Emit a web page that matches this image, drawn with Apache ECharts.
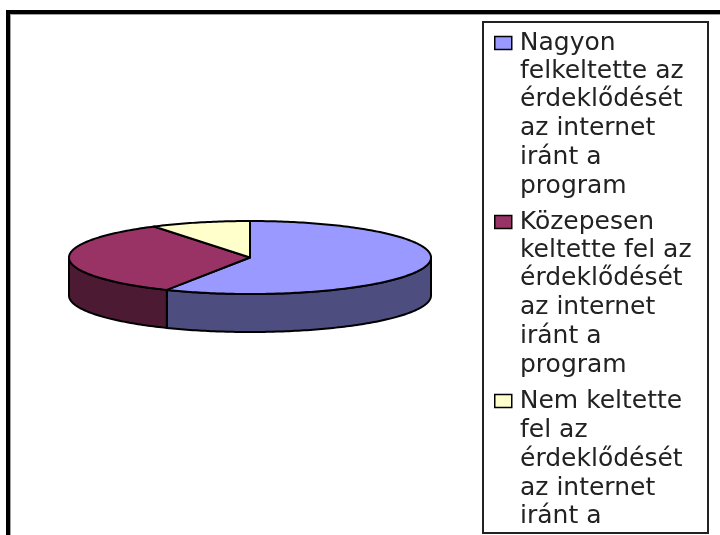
<!DOCTYPE html>
<html>
<head>
<meta charset="utf-8">
<style>html,body{margin:0;padding:0;background:#fff}#chart{width:720px;height:535px}</style>
<script src="https://cdn.jsdelivr.net/npm/echarts@6/dist/echarts.min.js"></script>
</head>
<body>
<div id="chart"></div>
<script>
// slice labels, line by line as they wrap in the legend box
var labelLines = [
    ['Nagyon', 'felkeltette az', 'érdeklődését', 'az internet', 'iránt a', 'program'],
    ['Közepesen', 'keltette fel az', 'érdeklődését', 'az internet', 'iránt a', 'program'],
    ['Nem keltette', 'fel az', 'érdeklődését', 'az internet', 'iránt a']
];
var sliceValues = [57.6, 33.5, 8.9];
var topColors = ['#9999ff', '#993366', '#ffffcc'];
var sideColors = ['#4d4d80', '#4d1a33', '#808066'];

var myChart = echarts.init(document.getElementById('chart'));

// flattened pie geometry
var CX = 250, CY = 257.5, RX = 181, RY = 36.5, DEPTH = 38;
var FONT_SIZE = 25;
var FONT_FAMILY = '"DejaVu Sans", sans-serif';
var LINE = 28.7;
var total = sliceValues.reduce(function (a, b) { return a + b; }, 0);

function pointAt(deg, drop) {
    // degrees clockwise from 12 o'clock
    var r = deg * Math.PI / 180;
    return [CX + RX * Math.sin(r), CY - RY * Math.cos(r) + (drop || 0)];
}

function arc(from, to, drop) {
    var pts = [];
    var n = Math.max(2, Math.ceil(to - from));
    for (var i = 0; i <= n; i++) {
        pts.push(pointAt(from + (to - from) * i / n, drop));
    }
    return pts;
}

function sliceItem(index) {
    return function (params, api) {
        var before = 0;
        for (var i = 0; i < index; i++) before += sliceValues[i];
        var start = before / total * 360;
        var end = start + api.value(0) / total * 360;
        var children = [];
        var lineStyle = { stroke: '#000', lineWidth: 2, lineJoin: 'round' };
        // only the front half of the rim can be seen
        var from = Math.max(start, 90), to = Math.min(end, 270);
        if (to > from) {
            var rim = arc(from, to, 0).concat(arc(from, to, DEPTH).reverse());
            children.push({
                type: 'polygon',
                shape: { points: rim },
                style: echarts.util.extend({ fill: sideColors[index] }, lineStyle)
            });
        }
        children.push({
            type: 'polygon',
            shape: { points: [[CX, CY]].concat(arc(start, end, 0)) },
            style: echarts.util.extend({ fill: topColors[index] }, lineStyle)
        });
        return { type: 'group', children: children };
    };
}

var seriesNames = labelLines.map(function (l) { return l.join(' '); });

var series = sliceValues.map(function (v, i) {
    return {
        name: seriesNames[i],
        type: 'custom',
        coordinateSystem: 'none',
        silent: true,
        animation: false,
        itemStyle: { color: topColors[i] },
        renderItem: sliceItem(i),
        data: [[v]]
    };
});

// frame and legend box, plus the wrapped lines the legend cannot place
var graphics = [
    { type: 'rect', shape: { x: 6, y: 10, width: 714, height: 4 }, style: { fill: '#000' }, z: 1 },
    { type: 'rect', shape: { x: 6, y: 10, width: 4, height: 525 }, style: { fill: '#000' }, z: 1 },
    { type: 'rect', shape: { x: 10, y: 14, width: 710, height: 1 }, style: { fill: '#a0a0a0' }, z: 1 },
    { type: 'rect', shape: { x: 10, y: 14, width: 1, height: 521 }, style: { fill: '#a0a0a0' }, z: 1 },
    {
        type: 'rect',
        shape: { x: 483, y: 22, width: 225, height: 511 },
        style: { fill: 'none', stroke: '#222', lineWidth: 2 },
        z: 1
    }
];
var blockTops = [42.5, 221.5, 402];
labelLines.forEach(function (lines, i) {
    lines.slice(1).forEach(function (text, j) {
        graphics.push({
            type: 'text',
            style: {
                x: 520,
                y: blockTops[i] + LINE * (j + 1),
                text: text,
                fontSize: FONT_SIZE,
                fontFamily: FONT_FAMILY,
                fill: '#222',
                verticalAlign: 'middle'
            },
            z: 5
        });
    });
});

var option = {
    backgroundColor: '#fff',
    animation: false,
    legend: {
        orient: 'vertical',
        left: 494,
        top: 29,
        padding: 0,
        icon: 'rect',
        itemWidth: 17,
        itemHeight: 13,
        itemGap: 151,
        selectedMode: false,
        itemStyle: { borderColor: '#000', borderWidth: 1.5 },
        textStyle: {
            fontFamily: FONT_FAMILY,
            fontSize: FONT_SIZE,
            color: '#222',
            lineHeight: 28,
            padding: [0, 0, 0, 3]
        },
        formatter: function (name) {
            return labelLines[seriesNames.indexOf(name)][0];
        },
        data: seriesNames
    },
    graphic: { elements: graphics },
    series: series
};
myChart.setOption(option);
</script>
</body>
</html>
